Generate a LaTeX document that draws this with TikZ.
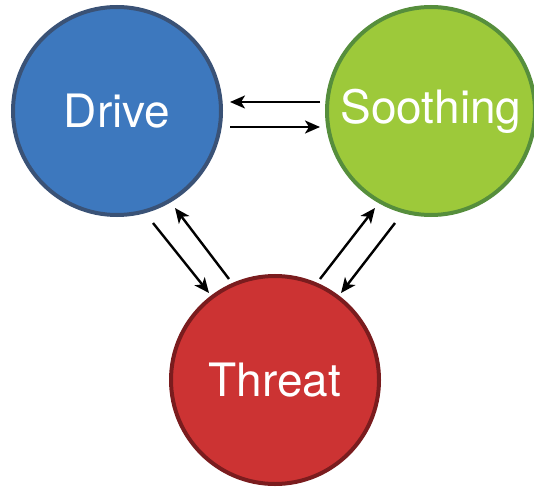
\documentclass[tikz,border=0pt]{standalone}
\usepackage{fontspec}
\setmainfont{TeX Gyre Heros}
\usepackage{tikz}
\usetikzlibrary{arrows.meta,calc}
\definecolor{drivefill}{RGB}{61,120,190}
\definecolor{driveline}{RGB}{58,82,118}
\definecolor{soothfill}{RGB}{157,201,58}
\definecolor{soothline}{RGB}{86,142,60}
\definecolor{threatfill}{RGB}{204,51,51}
\definecolor{threatline}{RGB}{122,28,30}
\tikzset{
  sys/.style  = {draw, circle, minimum size=208bp, inner sep=0pt,
                 line width=4bp, text=white,
                 font=\fontsize{46bp}{52bp}\selectfont},
  flow/.style = {-{Stealth[length=15bp,width=13bp,inset=4bp]}, line width=2.4bp}
}

\begin{document}
\begin{tikzpicture}[x=1bp,y=-1bp]
\useasboundingbox (0,0) rectangle (534,489);

% --- the three systems ---
\node[sys, fill=drivefill, draw=driveline] (drive) at (117,111) {Drive};
\node[sys, fill=soothfill, draw=soothline] (sooth) at (431,111) {Soothing};
\node[sys, fill=threatfill, draw=threatline] (threat) at (275,380) {Threat};

% --- drive <-> soothing ---
\draw[flow] ($(sooth.center)+(-111,-9)$) -- ($(drive.center)+(113,-9)$);
\draw[flow] ($(drive.center)+(113,16)$) -- ($(sooth.center)+(-111,16)$);

% --- drive <-> threat ---
\draw[flow] ($(drive.center)+(36,112)$) -- ($(threat.center)+(-66,-87)$);
\draw[flow] ($(threat.center)+(-46,-101)$) -- ($(drive.center)+(58,97)$);

% --- soothing <-> threat ---
\draw[flow] ($(threat.center)+(45,-101)$) -- ($(sooth.center)+(-56,97)$);
\draw[flow] ($(sooth.center)+(-36,112)$) -- ($(threat.center)+(66,-87)$);

\end{tikzpicture}
\end{document}
